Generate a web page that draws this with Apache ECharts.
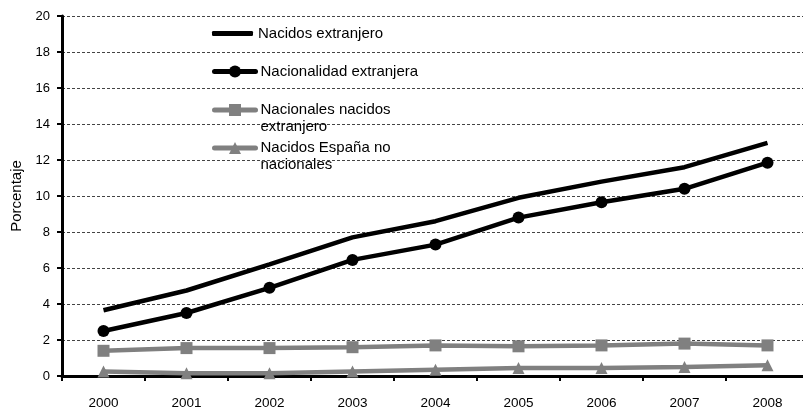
<!DOCTYPE html>
<html>
<head>
<meta charset="utf-8">
<script src="https://cdn.jsdelivr.net/npm/echarts@6/dist/echarts.min.js"></script>
<style>html,body{margin:0;padding:0;background:#fff}#c{width:803px;height:408px}</style>
</head>
<body>
<div id="c"></div>
<script>
const years = ['2000','2001','2002','2003','2004','2005','2006','2007','2008'];
const nacidosExtranjero = [3.65, 4.75, 6.2, 7.7, 8.6, 9.9, 10.8, 11.6, 12.95];
const nacionalidadExtranjera = [2.5, 3.5, 4.9, 6.45, 7.3, 8.8, 9.65, 10.4, 11.85];
const nacionalesNacidosExtranjero = [1.4, 1.55, 1.55, 1.6, 1.7, 1.65, 1.7, 1.8, 1.7];
const nacidosEspanaNoNacionales = [0.25, 0.15, 0.15, 0.25, 0.35, 0.45, 0.45, 0.5, 0.6];
const names = ['Nacidos extranjero', 'Nacionalidad extranjera', 'Nacionales nacidos\nextranjero', 'Nacidos España no\nnacionales'];

const font = 'Liberation Sans, Arial, sans-serif';
const chart = echarts.init(document.getElementById('c'), null, {renderer: 'canvas'});

function legendItem(name, top, opts) {
  const base = {
    data: [name],
    left: 212, top: top, orient: 'vertical',
    itemWidth: 41, itemHeight: 15, itemGap: 5, padding: 0,
    selectedMode: false,
    lineStyle: {width: 5, cap: 'round'},
    textStyle: {fontFamily: font, fontSize: 15, color: '#000', lineHeight: 17}
  };
  return Object.assign(base, opts || {});
}

chart.setOption({
  animation: false,
  grid: {left: 62, top: 16, right: -6, bottom: 32, containLabel: false, outerBoundsMode: 'none'},
  legend: [
    legendItem(names[0], 25, {icon: 'roundRect', itemHeight: 5, itemStyle: {color: '#000'}}),
    legendItem(names[1], 63),
    legendItem(names[2], 84.5, {formatter: n => '\n' + n}),
    legendItem(names[3], 122.5, {formatter: n => '\n' + n})
  ],
  xAxis: {
    type: 'category', data: years, boundaryGap: true,
    axisLine: {lineStyle: {color: '#000', width: 3}},
    axisTick: {show: true, length: 5, lineStyle: {color: '#000', width: 2}, alignWithLabel: false},
    axisLabel: {fontFamily: font, fontSize: 13.5, color: '#000', margin: 20},
    splitLine: {show: false}
  },
  yAxis: {
    type: 'value', min: 0, max: 20, interval: 2,
    name: 'Porcentaje', nameLocation: 'middle', nameGap: 34, nameRotate: 90,
    nameTextStyle: {fontFamily: font, fontSize: 15, color: '#000'},
    axisLine: {show: true, lineStyle: {color: '#000', width: 3}},
    axisTick: {show: true, length: 5, lineStyle: {color: '#000', width: 2}},
    axisLabel: {fontFamily: font, fontSize: 13, color: '#000', margin: 12},
    splitLine: {show: true, lineStyle: {color: '#444', width: 1, type: [3, 2]}}
  },
  series: [
    {name: names[3], type: 'line', data: nacidosEspanaNoNacionales, symbol: 'triangle', symbolSize: 12,
     lineStyle: {color: '#808080', width: 4.5}, itemStyle: {color: '#808080'}},
    {name: names[2], type: 'line', data: nacionalesNacidosExtranjero, symbol: 'rect', symbolSize: 12,
     lineStyle: {color: '#808080', width: 4.5}, itemStyle: {color: '#808080'}},
    {name: names[1], type: 'line', data: nacionalidadExtranjera, symbol: 'circle', symbolSize: 12,
     lineStyle: {color: '#000', width: 4.5}, itemStyle: {color: '#000'}},
    {name: names[0], type: 'line', data: nacidosExtranjero, symbol: 'none',
     lineStyle: {color: '#000', width: 4.5}, itemStyle: {color: '#000'}}
  ]
});
</script>
</body>
</html>
